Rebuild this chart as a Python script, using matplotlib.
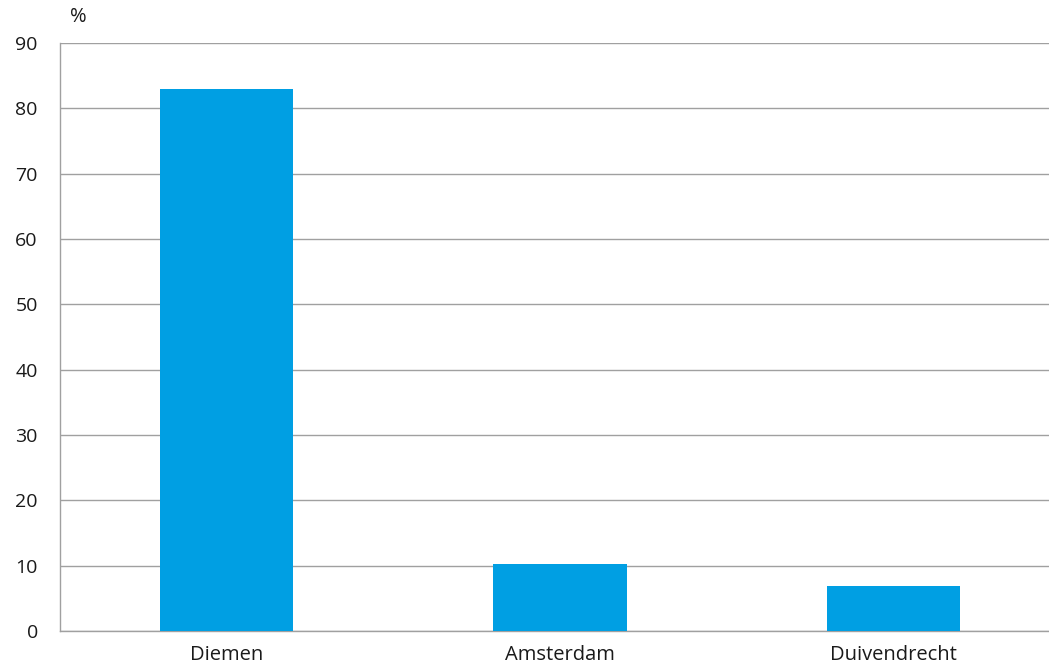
import matplotlib
matplotlib.use('Agg')
import matplotlib.pyplot as plt

matplotlib.rcParams['font.family'] = ['Open Sans', 'DejaVu Sans']

# data
categories = ['Diemen', 'Amsterdam', 'Duivendrecht']
values = [82.9, 10.2, 6.9]
yticks = [0, 10, 20, 30, 40, 50, 60, 70, 80, 90]

fig = plt.figure(figsize=(10.49, 6.65), dpi=100)
ax = fig.add_axes([60/1049, 1 - 631/665, 989/1049, 588/665])

x = range(len(categories))
ax.bar(x, values, width=0.4, color='#009fe3', zorder=3)

ax.set_xlim(-0.5, 2.466)
ax.set_ylim(0, 90)
ax.set_yticks(yticks)
ax.set_yticklabels([str(t) for t in yticks], fontsize=14, color='#1a1a1a')
ax.set_xticks(list(x))
ax.set_xticklabels(categories, fontsize=14.5, color='#1a1a1a')
ax.tick_params(axis='both', length=0)
ax.tick_params(axis='y', pad=16)
ax.tick_params(axis='x', pad=10)

ax.yaxis.grid(True, color='#a0a0a0', linewidth=1.0, zorder=0)
for s in ['top', 'right']:
    ax.spines[s].set_visible(False)
ax.spines['left'].set_color('#a0a0a0')
ax.spines['bottom'].set_color('#a0a0a0')
ax.spines['left'].set_linewidth(1.0)
ax.spines['bottom'].set_linewidth(1.0)

fig.text(78/1049, 1 - 17/665, '%', fontsize=14.5, ha='center', va='center', color='#1a1a1a')

plt.savefig('out.png', dpi=100)
plt.close()
